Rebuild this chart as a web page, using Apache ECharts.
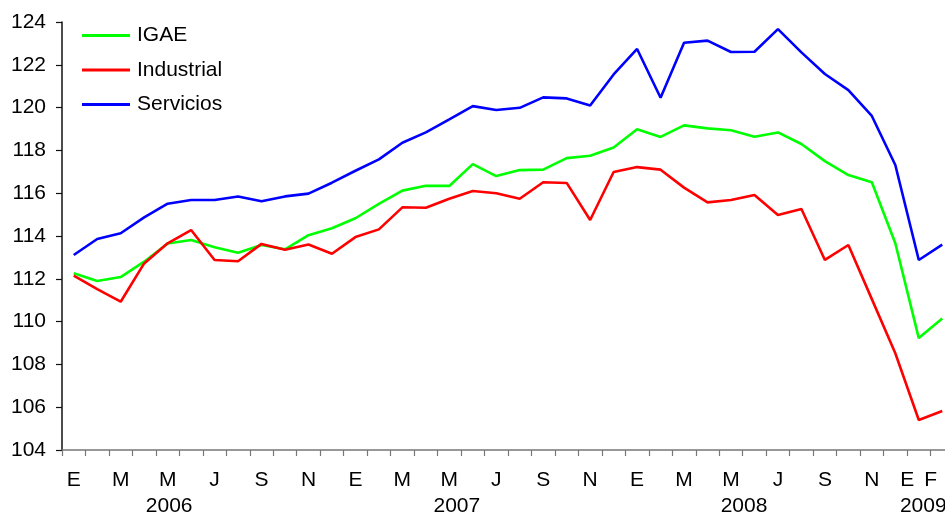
<!DOCTYPE html>
<html>
<head>
<meta charset="utf-8">
<script src="https://cdn.jsdelivr.net/npm/echarts@6/dist/echarts.min.js"></script>
<style>
  html, body { margin: 0; padding: 0; background: #fff; }
  #chart { width: 945px; height: 516px; }
</style>
</head>
<body>
<div id="chart"></div>
<script>
// Monthly index, January 2006 to February 2009
const months = [
  'E','F','M','A','M','J','J','A','S','O','N','D',
  'E','F','M','A','M','J','J','A','S','O','N','D',
  'E','F','M','A','M','J','J','A','S','O','N','D',
  'E','F'
];
const years = ['2006', '2007', '2008', '2009'];
const yearIndex = [4, 16, 28, 36];

const igae = [
  112.26, 111.90, 112.08, 112.80, 113.65, 113.81, 113.47, 113.22, 113.58, 113.38, 114.04, 114.36,
  114.83, 115.50, 116.12, 116.35, 116.34, 117.36, 116.80, 117.08, 117.10, 117.64, 117.75, 118.14,
  118.99, 118.63, 119.17, 119.03, 118.94, 118.64, 118.84, 118.30, 117.50, 116.85, 116.51, 113.66,
  109.23, 110.14
];
const industrial = [
  112.15, 111.52, 110.93, 112.72, 113.66, 114.28, 112.88, 112.82, 113.63, 113.36, 113.60, 113.17,
  113.95, 114.31, 115.34, 115.32, 115.74, 116.10, 116.00, 115.74, 116.51, 116.48, 114.75, 116.99,
  117.22, 117.10, 116.26, 115.57, 115.68, 115.92, 114.98, 115.26, 112.88, 113.58, 111.05, 108.52,
  105.40, 105.82
];
const servicios = [
  113.11, 113.86, 114.13, 114.87, 115.51, 115.68, 115.68, 115.85, 115.62, 115.85, 115.98, 116.49,
  117.05, 117.58, 118.36, 118.84, 119.45, 120.07, 119.89, 119.99, 120.48, 120.43, 120.10, 121.55,
  122.74, 120.46, 123.03, 123.13, 122.60, 122.61, 123.67, 122.58, 121.57, 120.82, 119.61, 117.32,
  112.88, 113.60
];

const FONT = '"Liberation Sans", Arial, sans-serif';
const FS = 21;

const chart = echarts.init(document.getElementById('chart'), null, { renderer: 'canvas' });

const lineSeries = (name, data, color) => ({
  name: name,
  type: 'line',
  data: data,
  xAxisIndex: 0,
  yAxisIndex: 0,
  symbol: 'none',
  smooth: false,
  lineStyle: { color: color, width: 2.6 },
  itemStyle: { color: color }
});

chart.setOption({
  animation: false,
  backgroundColor: '#ffffff',
  textStyle: { fontFamily: FONT },
  grid: {
    left: 62, top: 22, width: 892, height: 428,
    containLabel: false,
    outerBoundsMode: 'none'
  },
  legend: {
    orient: 'vertical',
    left: 77,
    top: 20,
    icon: 'rect',
    itemWidth: 48,
    itemHeight: 3,
    itemGap: 13.5,
    textStyle: { fontFamily: FONT, fontSize: FS, color: '#000', padding: [0, 0, 0, 2] },
    data: ['IGAE', 'Industrial', 'Servicios']
  },
  xAxis: [
    {
      type: 'category',
      data: months,
      boundaryGap: true,
      axisLine: { lineStyle: { color: '#777', width: 1.5 } },
      axisTick: { show: true, interval: 0, length: 6, lineStyle: { color: '#777', width: 1.2 } },
      axisLabel: {
        interval: (idx) => idx % 2 === 0 || idx === months.length - 1,
        margin: 20,
        color: '#000',
        fontFamily: FONT,
        fontSize: FS,
        formatter: (v, idx) => idx >= 36 ? '{l|' + v + '}' : v,
        rich: {
          l: { fontFamily: FONT, fontSize: FS, color: '#000', padding: [0, 23, 0, 0] }
        }
      },
      splitLine: { show: false }
    },
    {
      type: 'category',
      data: months,
      position: 'bottom',
      boundaryGap: true,
      axisLine: { show: false },
      axisTick: { show: false },
      splitLine: { show: false },
      axisLabel: {
        interval: (idx) => yearIndex.indexOf(idx) !== -1,
        margin: 46,
        color: '#000',
        fontFamily: FONT,
        fontSize: FS,
        formatter: (v, idx) => {
          const k = yearIndex.indexOf(idx);
          return k === -1 ? '' : '{y' + k + '|' + years[k] + '}';
        },
        rich: {
          y0: { fontFamily: FONT, fontSize: FS, color: '#000', padding: [0, 0, 0, 3] },
          y1: { fontFamily: FONT, fontSize: FS, color: '#000', padding: [0, 0, 0, 15] },
          y2: { fontFamily: FONT, fontSize: FS, color: '#000', padding: [0, 0, 0, 26] },
          y3: { fontFamily: FONT, fontSize: FS, color: '#000', padding: [0, 0, 0, 9] }
        }
      }
    }
  ],
  yAxis: {
    type: 'value',
    min: 104,
    max: 124,
    interval: 2,
    axisLine: { show: true, lineStyle: { color: '#111', width: 1.5 } },
    axisTick: { show: true, length: 6, lineStyle: { color: '#111', width: 1.2 } },
    axisLabel: { margin: 16, color: '#000', fontFamily: FONT, fontSize: FS },
    splitLine: { show: false }
  },
  series: [
    lineSeries('IGAE', igae, '#00ff00'),
    lineSeries('Industrial', industrial, '#ff0000'),
    lineSeries('Servicios', servicios, '#0000ff')
  ]
});
</script>
</body>
</html>
